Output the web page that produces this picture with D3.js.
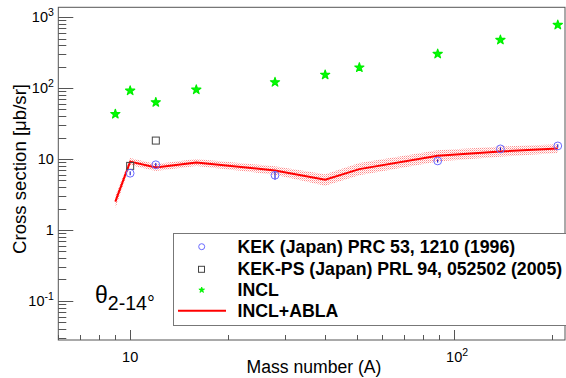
<!DOCTYPE html>
<html>
<head>
<meta charset="utf-8">
<script src="https://cdn.jsdelivr.net/npm/d3@7"></script>
<style>
  body { margin: 0; background: #fff; }
  svg text { font-family: "Liberation Sans", Arial, Helvetica, sans-serif; }
</style>
</head>
<body>
<script>
'use strict';

// mass numbers of the targets
const massKEK = [10, 12, 28, 89, 139, 209];
const xsKEK = [6.3, 8.3, 5.9, 9.4, 13.9, 15.3];
const errKEK = [0.4, 0.5, 0.8, 0.5, 0.7, 0.8];

const massKEKPS = [10, 12];
const xsKEKPS = [8.0, 18.2];

const massINCL = [9, 10, 12, 16, 28, 40, 51, 89, 139, 209];
const xsINCL = [43, 92, 63, 95, 121, 154, 195, 304, 479, 779];

// INCL+ABLA curve and its uncertainty band
const massABLA = [9, 10, 12, 16, 28, 40, 51, 89, 139, 209];
const xsABLA = [2.5, 9.2, 7.6, 8.9, 6.9, 5.1, 7.2, 11.1, 12.8, 14.1];
const xsABLALow = [2.0, 8.2, 6.8, 8.0, 6.0, 4.2, 5.9, 9.2, 10.8, 12.2];
const xsABLAHigh = [3.0, 10.3, 8.5, 10.0, 7.9, 6.1, 8.8, 13.3, 15.0, 16.2];

// axis ticks
const yTickVals = [0.1, 1, 10, 100, 1000];
const yTickLabels = [["10", "-1"], ["1", ""], ["10", ""], ["10", "2"], ["10", "3"]];
const xTickVals = [10, 100];
const xTickLabels = [["10", ""], ["10", "2"]];

const legendLabels = [
  "KEK (Japan) PRC 53, 1210 (1996)",
  "KEK-PS (Japan) PRL 94, 052502 (2005)",
  "INCL",
  "INCL+ABLA"
];

(function() {

  const W = 566, H = 378;
  const pL = 58.3, pR = 565, pT = 7.3, pB = 340;
  const frameColor = "#555";

  const svg = d3.select("body").append("svg")
    .attr("width", W)
    .attr("height", H);

  // set font size so a text gets the wanted width
  function fitSize(sel, width) {
    sel.attr("font-size", 20);
    const w = sel.node().getComputedTextLength();
    sel.attr("font-size", 20 * width / w);
  }

  const x = d3.scaleLog().domain([6, 220]).range([pL, pR]);
  const y = d3.scaleLog().domain([0.028, 1380]).range([pB, pT]);

  // dotted fill for the band
  const defs = svg.append("defs");
  const pat = defs.append("pattern")
    .attr("id", "dots")
    .attr("width", 2)
    .attr("height", 2)
    .attr("patternUnits", "userSpaceOnUse");
  pat.append("rect").attr("x", 0).attr("y", 0).attr("width", 1).attr("height", 1).attr("fill", "#ff8a8a");
  pat.append("rect").attr("x", 1).attr("y", 1).attr("width", 1).attr("height", 1).attr("fill", "#ffc4c4");

  defs.append("clipPath").attr("id", "plotclip")
    .append("rect")
    .attr("x", pL).attr("y", pT)
    .attr("width", pR - pL).attr("height", pB - pT);

  // frame
  svg.append("rect")
    .attr("x", pL)
    .attr("y", pT)
    .attr("width", pR - pL)
    .attr("height", pB - pT)
    .attr("fill", "none")
    .attr("stroke", frameColor)
    .attr("stroke-width", 1);

  // y ticks (inside the frame)
  const yMinor = [];
  for (let e = -2; e <= 3; e++) {
    for (let m = 1; m <= 9; m++) {
      const v = +(m * Math.pow(10, e)).toPrecision(3);
      if (v >= 0.028 && v <= 1380) yMinor.push(v);
    }
  }
  svg.append("g").selectAll("line")
    .data(yMinor)
    .enter()
    .append("line")
      .attr("x1", pL)
      .attr("x2", d => pL + (yTickVals.includes(d) ? 15 : 8))
      .attr("y1", d => Math.round(y(d)) + 0.5)
      .attr("y2", d => Math.round(y(d)) + 0.5)
      .attr("stroke", frameColor);

  // y tick labels
  const yLab = svg.append("g").selectAll("text")
    .data(yTickVals)
    .enter()
    .append("text")
      .attr("y", d => y(d) + 5)
      .attr("font-size", 14.5);
  yLab.append("tspan").text((d, i) => yTickLabels[i][0]);
  yLab.append("tspan")
    .attr("dy", -6)
    .attr("font-size", 10.5)
    .text((d, i) => yTickLabels[i][1]);
  yLab.each(function(d, i) {
    const w = this.getComputedTextLength();
    d3.select(this).attr("x", pL - 4.5 - w);
  });

  // x ticks
  const xMinor = [];
  for (let e = 0; e <= 2; e++) {
    for (let m = 1; m <= 9; m++) {
      const v = m * Math.pow(10, e);
      if (v >= 6 && v <= 220) xMinor.push(v);
    }
  }
  svg.append("g").selectAll("line")
    .data(xMinor)
    .enter()
    .append("line")
      .attr("x1", d => Math.round(x(d)) + 0.5)
      .attr("x2", d => Math.round(x(d)) + 0.5)
      .attr("y1", pB)
      .attr("y2", d => pB - (xTickVals.includes(d) ? 10 : 5))
      .attr("stroke", frameColor);

  const xLab = svg.append("g").selectAll("text")
    .data(xTickVals)
    .enter()
    .append("text")
      .attr("y", 362)
      .attr("font-size", 14.5);
  xLab.append("tspan").text((d, i) => xTickLabels[i][0]);
  xLab.append("tspan")
    .attr("dy", -6)
    .attr("font-size", 10.5)
    .text((d, i) => xTickLabels[i][1]);
  xLab.each(function(d, i) {
    const w = this.getComputedTextLength();
    const base = i === 0 ? w : 16;
    d3.select(this).attr("x", x(d) - base / 2);
  });

  // axis titles
  const xTitle = svg.append("text")
    .attr("x", 314)
    .attr("y", 372.5)
    .attr("text-anchor", "middle")
    .text("Mass number (A)");
  fitSize(xTitle, 135);

  const yTitle = svg.append("text")
    .attr("transform", "translate(25.5, 84)rotate(-90)")
    .attr("text-anchor", "end")
    .text("Cross section [\u03bcb/sr]");
  fitSize(yTitle, 170);

  const plot = svg.append("g").attr("clip-path", "url(#plotclip)");

  // INCL+ABLA band
  const bandData = massABLA.map((a, i) => ({ a: a, lo: xsABLALow[i], hi: xsABLAHigh[i], v: xsABLA[i] }));
  plot.append("path")
    .datum(bandData)
    .attr("fill", "url(#dots)")
    .attr("d", d3.area()
      .x(d => x(d.a))
      .y0(d => y(d.lo))
      .y1(d => y(d.hi)));

  plot.append("path")
    .datum(bandData)
    .attr("fill", "none")
    .attr("stroke", "#ff0000")
    .attr("stroke-width", 2)
    .attr("d", d3.line()
      .x(d => x(d.a))
      .y(d => y(d.v)));

  // KEK-PS squares
  plot.selectAll(".sq")
    .data(massKEKPS)
    .enter()
    .append("rect")
      .attr("class", "sq")
      .attr("x", d => x(d) - 3.5)
      .attr("y", (d, i) => y(xsKEKPS[i]) - 3.5)
      .attr("width", 7)
      .attr("height", 7)
      .attr("fill", "none")
      .attr("stroke", "#444")
      .attr("stroke-width", 1);

  // KEK circles with error bars
  plot.selectAll(".err")
    .data(massKEK)
    .enter()
    .append("line")
      .attr("class", "err")
      .attr("x1", d => x(d))
      .attr("x2", d => x(d))
      .attr("y1", (d, i) => y(xsKEK[i] - errKEK[i]))
      .attr("y2", (d, i) => y(xsKEK[i] + errKEK[i]))
      .attr("stroke", "#0000cc")
      .attr("stroke-width", 1);

  plot.selectAll(".circ")
    .data(massKEK)
    .enter()
    .append("circle")
      .attr("class", "circ")
      .attr("cx", d => x(d))
      .attr("cy", (d, i) => y(xsKEK[i]))
      .attr("r", 3.9)
      .attr("fill", "none")
      .attr("stroke", "#6a6aff")
      .attr("stroke-width", 1);

  // INCL stars
  const star = d3.symbol().type(d3.symbolStar).size(26);
  plot.selectAll(".star")
    .data(massINCL)
    .enter()
    .append("path")
      .attr("class", "star")
      .attr("transform", (d, i) => "translate(" + x(d) + "," + y(xsINCL[i]) + ")")
      .attr("d", star)
      .attr("fill", "#00ff00")
      .attr("stroke", "#00ee00")
      .attr("stroke-width", 1.2)
      .attr("stroke-linejoin", "round");

  // theta label
  const th = svg.append("text")
    .attr("x", 95)
    .attr("y", 302.5)
    .attr("font-size", 23)
    .text("\u03b8");
  const thW = th.node().getComputedTextLength();
  const sub = svg.append("text")
    .attr("x", 95 + thW)
    .attr("y", 310)
    .text("2-14\u00b0");
  fitSize(sub, 47);

  // legend
  const lg = svg.append("g");
  lg.append("rect")
    .attr("x", 173.5)
    .attr("y", 233.5)
    .attr("width", 400)
    .attr("height", 92)
    .attr("fill", "#fff")
    .attr("stroke", "#777")
    .attr("stroke-width", 1);

  const rowY = [246.7, 269.3, 290, 310.7];
  const lt = lg.selectAll(".lt")
    .data(legendLabels)
    .enter()
    .append("text")
      .attr("class", "lt")
      .attr("x", 237.5)
      .attr("y", (d, i) => rowY[i] + 5.8)
      .attr("font-weight", "bold")
      .text(d => d);
  // size from the longest entry
  const longest = lt.filter((d, i) => i === 1);
  fitSize(longest, 325);
  lt.attr("font-size", longest.attr("font-size"));

  lg.append("circle")
    .attr("cx", 201.7).attr("cy", rowY[0]).attr("r", 3)
    .attr("fill", "none").attr("stroke", "#6a6aff");
  lg.append("rect")
    .attr("x", 198.5).attr("y", rowY[1] - 3).attr("width", 6).attr("height", 6)
    .attr("fill", "none").attr("stroke", "#444");
  lg.append("path")
    .attr("transform", "translate(201.7," + rowY[2] + ")")
    .attr("d", d3.symbol().type(d3.symbolStar).size(10))
    .attr("fill", "#00ff00")
    .attr("stroke", "#00ee00")
    .attr("stroke-width", 0.8);
  lg.append("line")
    .attr("x1", 178).attr("x2", 226)
    .attr("y1", rowY[3]).attr("y2", rowY[3])
    .attr("stroke", "#ff0000").attr("stroke-width", 2);

})();
</script>
</body>
</html>
